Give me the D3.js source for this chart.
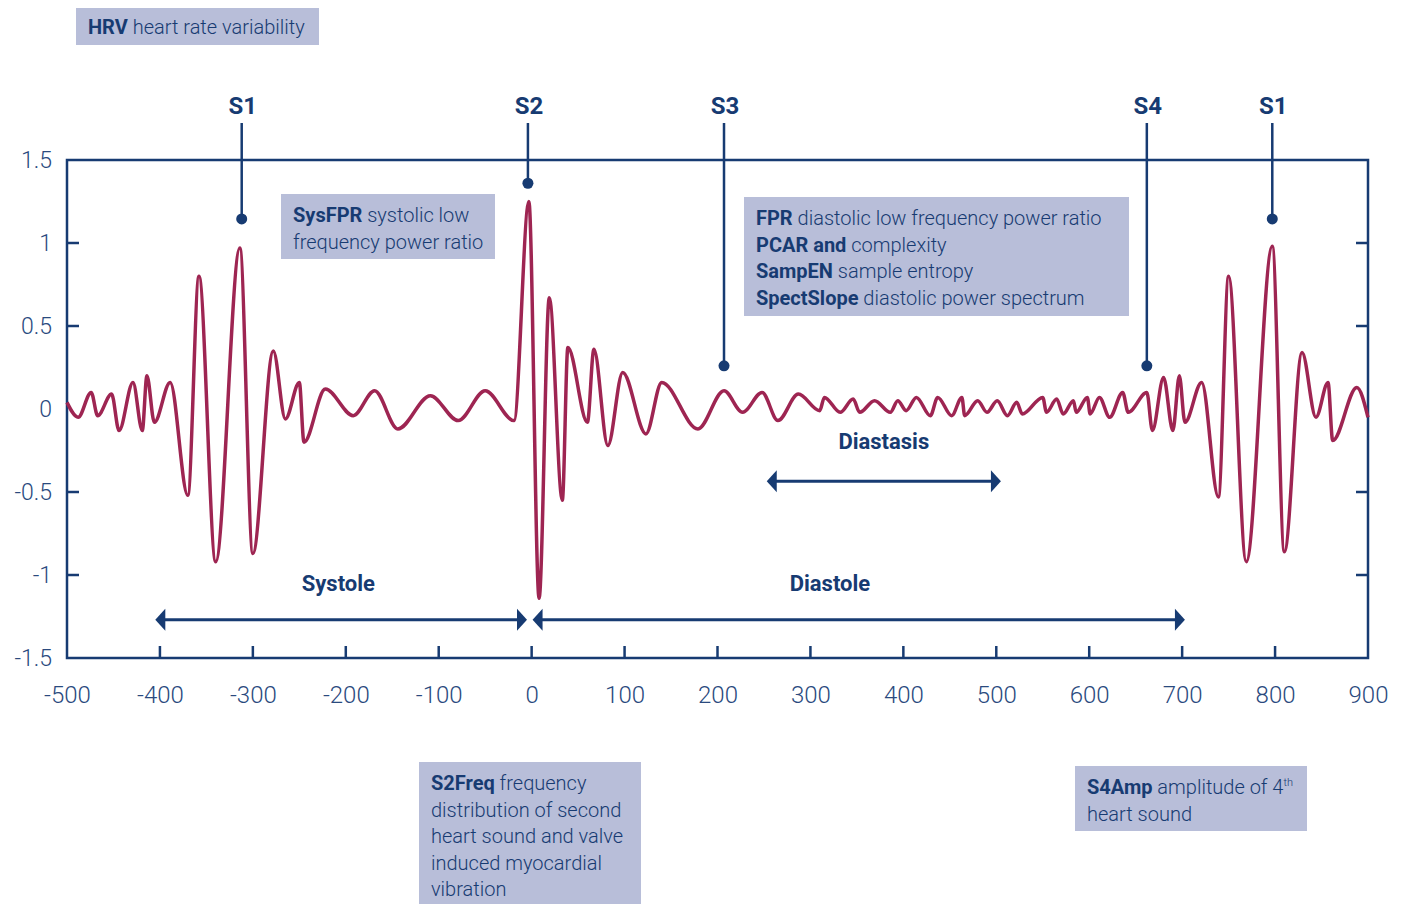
<!DOCTYPE html>
<html><head><meta charset="utf-8">
<script src="https://cdn.jsdelivr.net/npm/d3@7"></script>
<style>
body{margin:0;background:#fff;}
svg{display:block;}
text{font-family:Roboto, "Open Sans", sans-serif;}
</style></head>
<body>
<svg id="chart" width="1411" height="905"></svg>
<script>
// ---- data ----
const waveX = [-500,-488,-474,-467,-452,-444,-429,-419,-414,-406,-389,-370,-358,-340,-314,-300,-278,-265,-250,-245,-222,-192,-169,-144,-109,-79,-50,-19,-3,8,19,33,39,60,67,82,98,123,140,179,207,227,248,265,287,310,315,332,346,353,369,386,394,403,414,429,437,452,463,466,480,490,501,512,522,528,550,554,565,572,583,586,598,601,611,622,636,642,662,668,680,690,697,703,721,739,750,769,797,810,829,844,857,862,888,900];
const waveY = [0.04,-0.05,0.10,-0.04,0.09,-0.13,0.16,-0.13,0.20,-0.08,0.16,-0.52,0.80,-0.92,0.97,-0.87,0.35,-0.06,0.16,-0.20,0.12,-0.04,0.11,-0.12,0.08,-0.07,0.11,-0.07,1.25,-1.14,0.67,-0.55,0.37,-0.08,0.36,-0.22,0.22,-0.15,0.16,-0.12,0.11,-0.02,0.10,-0.07,0.09,-0.01,0.07,-0.02,0.06,-0.02,0.05,-0.02,0.05,-0.01,0.07,-0.04,0.07,-0.04,0.07,-0.04,0.05,-0.02,0.05,-0.04,0.04,-0.03,0.07,-0.02,0.06,-0.03,0.05,-0.02,0.07,-0.03,0.07,-0.05,0.10,-0.02,0.10,-0.13,0.19,-0.13,0.20,-0.08,0.16,-0.53,0.80,-0.92,0.98,-0.86,0.34,-0.05,0.16,-0.19,0.13,-0.05];
const xTicks = [-500,-400,-300,-200,-100,0,100,200,300,400,500,600,700,800,900];
const yTicks = [-1.5,-1,-0.5,0,0.5,1,1.5];
const markerLabels = ["S1","S2","S3","S4","S1"];
const markerX = [-312,-4,207,662,797];
const markerY = [1.145,1.36,0.26,0.26,1.145];
const arrowLabels = ["Systole","Diastole","Diastasis"];
const arrowFrom = [-405,1,253];
const arrowTo = [-5,703,505];
const arrowY = [-1.27,-1.27,-0.435];
const arrowLabelX = [-208,321,379];
const arrowLabelY = [-1.097,-1.097,-0.24];

// ---- setup ----
const navy = "#173b72", fill = "#b8bed9", wine = "#9e2552";
const svg = d3.select("#chart");
const L = 67, R = 1368, T = 160, B = 658;
const x = d3.scaleLinear().domain([-500,900]).range([L,R]);
const y = d3.scaleLinear().domain([-1.5,1.5]).range([B,T]);

// frame
svg.append("rect").attr("x",L).attr("y",T).attr("width",R-L).attr("height",B-T)
  .attr("fill","none").attr("stroke",navy).attr("stroke-width",2.5);

// bottom axis
const xa = svg.append("g").attr("transform",`translate(0,${B})`)
  .call(d3.axisBottom(x).tickValues(xTicks).tickSize(0).tickPadding(28).tickFormat(d=>String(d)));
xa.select(".domain").remove();
xa.selectAll("text").attr("fill","#2a4a7e").attr("font-size",24).attr("font-weight",300).attr("font-family","Roboto");
svg.append("g").selectAll("line").data(xTicks.filter(d=>d>-500&&d<900)).join("line")
  .attr("x1",d=>x(d)).attr("x2",d=>x(d)).attr("y1",B).attr("y2",B-12)
  .attr("stroke",navy).attr("stroke-width",2.5);

// left axis
const ya = svg.append("g").attr("transform",`translate(${L},0)`)
  .call(d3.axisLeft(y).tickValues(yTicks).tickSize(0).tickPadding(15).tickFormat(d=>String(d)));
ya.select(".domain").remove();
ya.selectAll("text").attr("fill","#2a4a7e").attr("font-size",23).attr("font-weight",300).attr("font-family","Roboto");
const inner = yTicks.filter(d=>d!==0 && Math.abs(d)<1.5);
svg.append("g").selectAll("line").data(inner).join("line")
  .attr("x1",L).attr("x2",L+12).attr("y1",d=>y(d)).attr("y2",d=>y(d))
  .attr("stroke",navy).attr("stroke-width",2.5);
svg.append("g").selectAll("line").data(inner).join("line")
  .attr("x1",R).attr("x2",R-12).attr("y1",d=>y(d)).attr("y2",d=>y(d))
  .attr("stroke",navy).attr("stroke-width",2.5);

// boxes
function box(x0,y0,w,h,lines,lh,fs,off){
  svg.append("rect").attr("x",x0).attr("y",y0).attr("width",w).attr("height",h).attr("fill",fill);
  lines.forEach((ln,i)=>{
    const t = svg.append("text").attr("x",x0+12).attr("y",y0+off+i*lh)
      .attr("font-size",fs).attr("fill",navy);
    ln.forEach(seg=>{
      t.append("tspan").text(seg[0]).attr("font-weight",seg[1]?700:300);
    });
  });
}
box(76,8,243,37,[[["HRV",1],[" heart rate variability",0]]],0,20,26);
box(281,194,214,65,[[["SysFPR",1],[" systolic low",0]],[["frequency power ratio",0]]],27,20,28);
box(744,197,385,119,[[["FPR",1],[" diastolic low frequency power ratio",0]],[["PCAR and",1],[" complexity",0]],[["SampEN",1],[" sample entropy",0]],[["SpectSlope",1],[" diastolic power spectrum",0]]],26.7,20,28);
box(419,762,222,142,[[["S2Freq",1],[" frequency",0]],[["distribution of second",0]],[["heart sound and valve",0]],[["induced myocardial",0]],[["vibration",0]]],26.6,20,28);
box(1075,766,232,65,[[["S4Amp",1],[" amplitude of 4",0]],[["heart sound",0]]],27,20,28);
d3.selectAll("text").filter(function(){return this.textContent.startsWith("S4Amp");})
  .append("tspan").text("th").attr("font-size",11).attr("font-weight",300).attr("dy",-8);

// waveform
const pts = waveX.map((v,i)=>[v,waveY[i]]);
const line = d3.line().x(d=>x(d[0])).y(d=>y(d[1])).curve(d3.curveMonotoneX);
svg.append("path").datum(pts).attr("d",line).attr("fill","none")
  .attr("stroke",wine).attr("stroke-width",3.5).attr("stroke-linejoin","round");

// markers
markerLabels.forEach((lab,i)=>{
  const px = x(markerX[i]);
  svg.append("line").attr("x1",px).attr("x2",px).attr("y1",T-37).attr("y2",y(markerY[i]))
    .attr("stroke",navy).attr("stroke-width",2.5);
  svg.append("circle").attr("cx",px).attr("cy",y(markerY[i])).attr("r",5.5).attr("fill",navy);
  svg.append("text").attr("x",px+1).attr("y",T-46).attr("text-anchor","middle")
    .attr("font-size",24).attr("font-weight",700).attr("fill",navy).text(lab);
});

// arrows
const ah = 11, aw = 10;
arrowLabels.forEach((lab,i)=>{
  const x1 = x(arrowFrom[i]), x2 = x(arrowTo[i]), py = y(arrowY[i]);
  svg.append("line").attr("x1",x1+4).attr("x2",x2-4).attr("y1",py).attr("y2",py)
    .attr("stroke",navy).attr("stroke-width",3);
  svg.append("path").attr("d",`M${x1},${py}L${x1+aw},${py-ah}L${x1+aw},${py+ah}Z`).attr("fill",navy);
  svg.append("path").attr("d",`M${x2},${py}L${x2-aw},${py-ah}L${x2-aw},${py+ah}Z`).attr("fill",navy);
  svg.append("text").attr("x",x(arrowLabelX[i])).attr("y",y(arrowLabelY[i])).attr("text-anchor","middle")
    .attr("font-size",22).attr("font-weight",700).attr("fill",navy).text(lab);
});
</script>
</body></html>
